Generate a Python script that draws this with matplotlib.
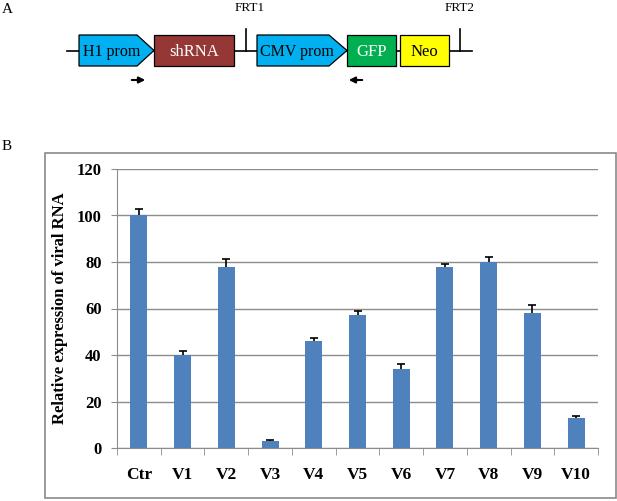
import matplotlib
matplotlib.use("Agg")
import matplotlib.pyplot as plt
from matplotlib.patches import Polygon, Rectangle
import numpy as np

plt.rcParams['font.family'] = ['Liberation Serif', 'DejaVu Serif']

# data for panel B
categories = ["Ctr", "V1", "V2", "V3", "V4", "V5", "V6", "V7", "V8", "V9", "V10"]
values = [100, 40, 78, 3, 46, 57, 34, 78, 80, 58, 13]
errors = [2.7, 1.7, 3.2, 0.5, 1.5, 2.0, 2.2, 1.0, 2.0, 3.3, 0.8]

W, H = 617, 501
fig = plt.figure(figsize=(W / 100, H / 100), dpi=100)

# overlay in pixel coordinates for panel A and frame
over = fig.add_axes([0, 0, 1, 1])
over.set_xlim(0, W)
over.set_ylim(H, 0)
over.axis("off")

over.text(2, 9, "A", fontsize=11, va="center", ha="left")
over.text(2, 146, "B", fontsize=11, va="center", ha="left")

# backbone
yc, top, bot = 50.5, 35, 66
over.plot([67, 472], [yc, yc], color="black", lw=1.2, zorder=1)

def pentagon(x0, x1, tip, color, label, tc="black"):
    pts = [(x0, top), (x1, top), (tip, yc), (x1, bot), (x0, bot)]
    over.add_patch(Polygon(pts, closed=True, fc=color, ec="black", lw=0.9, zorder=2))
    over.text((x0 + x1) / 2 + 4, yc + 1, label, ha="center", va="center", fontsize=11.5, color=tc, zorder=3)

def box(x0, x1, color, label, tc="black"):
    over.add_patch(Rectangle((x0, top), x1 - x0, bot - top, fc=color, ec="black", lw=0.9, zorder=2))
    over.text((x0 + x1) / 2, yc + 1, label, ha="center", va="center", fontsize=12, color=tc, zorder=3)

pentagon(79, 137, 154, "#00b0f0", "H1 prom")
box(154, 234, "#953735", "shRNA", "white")
pentagon(257, 329, 347, "#00b0f0", "CMV prom")
box(347, 396, "#00b050", "GFP", "white")
box(400, 449, "#ffff00", "Neo")

# FRT markers
for xm, xt, lab in [(246, 250, "FRT1"), (460, 460, "FRT2")]:
    over.plot([xm, xm], [29, yc], color="black", lw=1.2, zorder=1)
    over.text(xt, 8, lab, ha="center", va="center", fontsize=9.5)

# primer arrows
over.annotate("", xy=(148, 80), xytext=(129, 80),
              arrowprops=dict(arrowstyle="-|>", color="black", lw=1.5, mutation_scale=9))
over.annotate("", xy=(346, 80), xytext=(365, 80),
              arrowprops=dict(arrowstyle="-|>", color="black", lw=1.5, mutation_scale=9))

# outer frame for panel B
over.add_patch(Rectangle((44.5, 152.5), 571, 345.5, fill=False, ec="#8a8a8a", lw=1.2))

# panel B bar chart
ax = fig.add_axes([117 / W, (H - 448) / H, 481 / W, 279 / H])
x = np.arange(len(categories))
bars = ax.bar(x, values, width=0.39, color="#4f81bd", zorder=2,
              yerr=[np.zeros(len(errors)), errors],
              error_kw=dict(ecolor="black", elinewidth=1.2, capsize=3, capthick=1.2))
# only the upper caps, like Excel's "plus" error bars
caplines = bars.errorbar.lines[1]
if len(caplines) == 2:
    caplines[0].set_visible(False)
ax.set_xlim(-0.5, len(categories) - 0.5)
ax.set_ylim(0, 120)
ax.set_yticks(range(0, 121, 20))
ax.yaxis.grid(True, color="#8c8c8c", lw=1)
ax.set_axisbelow(True)
ax.set_xticks(x)
ax.set_xticklabels(categories, fontsize=12.5, fontweight="bold")
ax.tick_params(axis="x", length=0, pad=14)
ax.set_xticks(np.arange(-0.5, len(categories), 1), minor=True)
ax.tick_params(axis="x", which="minor", length=5, color="#8c8c8c", direction="out")
ax.tick_params(axis="y", length=4, color="#8c8c8c", labelsize=12, pad=7)
for lbl in ax.get_yticklabels():
    lbl.set_fontweight("bold")
ax.set_ylabel("Relative expression of viral RNA", fontsize=12, fontweight="bold", labelpad=6)
for s in ["top", "right"]:
    ax.spines[s].set_visible(False)
for s in ["left", "bottom"]:
    ax.spines[s].set_color("#8c8c8c")

fig.savefig("out.png", dpi=100)
